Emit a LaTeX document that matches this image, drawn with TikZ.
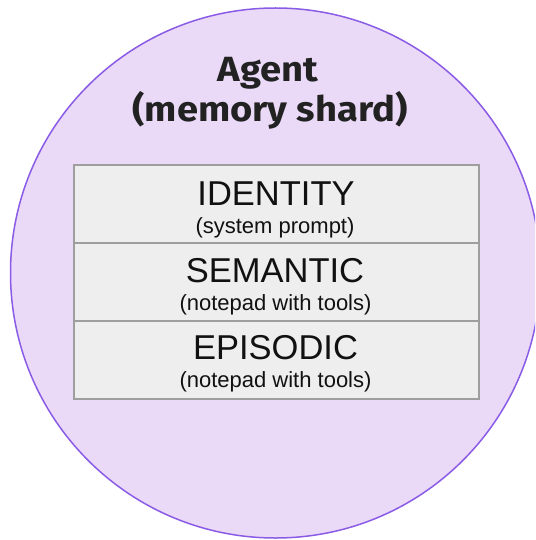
\documentclass[tikz,border=0pt]{standalone}
\usepackage{fontspec}
\setmainfont{Liberation Sans}
\newfontfamily\titlefont[FakeStretch=1.09]{Fira Sans}
\definecolor{circfill}{HTML}{EAD9F7}
\definecolor{circline}{HTML}{8A5CE6}
\definecolor{boxfill}{HTML}{EEEEEE}
\definecolor{boxline}{HTML}{9E9E9E}
\definecolor{titlecol}{HTML}{222222}
\definecolor{labelcol}{HTML}{111111}
\tikzset{
  agentcircle/.style={circle, draw=circline, fill=circfill, line width=1.5pt, minimum size=530pt, inner sep=0pt},
  titletext/.style={font=\titlefont\bfseries\fontsize{35}{40}\selectfont, text=titlecol, inner sep=0pt, anchor=base},
  layer/.style={rectangle, draw=boxline, fill=boxfill, line width=2pt, minimum width=405pt, minimum height=78pt, inner sep=0pt, anchor=north west},
  mainlabel/.style={font=\fontsize{34.5}{40}\selectfont, text=labelcol, inner sep=0pt, anchor=base},
  sublabel/.style={font=\fontsize{22}{26}\selectfont, text=labelcol, inner sep=0pt, anchor=base}
}
\begin{document}
\begin{tikzpicture}[x=1pt,y=-1pt]
\useasboundingbox (0,0) rectangle (535,540);
\clip (0,0) rectangle (535,540);
\node[agentcircle] (agent) at (275.5,273) {};
\node[titletext] (title1) at (268,82) {Agent};
\node[titletext] (title2) at (270,122) {(memory shard)};
\node[layer] (identity) at (73,164) {};
\node[layer] (semantic) at (73,242) {};
\node[layer] (episodic) at (73,320) {};
\node[mainlabel] (identitylbl) at (276,205) {IDENTITY};
\node[sublabel] (identitysub) at (275,233) {(system prompt)};
\node[mainlabel] (semanticlbl) at (275,282) {SEMANTIC};
\node[sublabel] (semanticsub) at (275.5,310.5) {(notepad with tools)};
\node[mainlabel] (episodiclbl) at (275.5,359) {EPISODIC};
\node[sublabel] (episodicsub) at (275.5,387) {(notepad with tools)};
\end{tikzpicture}
\end{document}
